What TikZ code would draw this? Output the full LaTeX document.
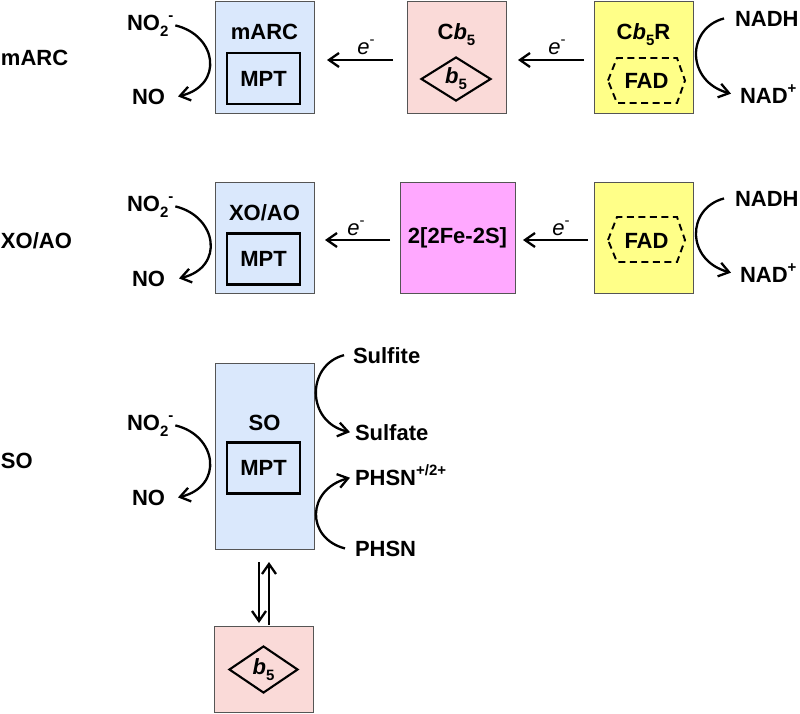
\documentclass[tikz,border=0pt]{standalone}
\usepackage{fontspec}
\setmainfont{Liberation Sans}
\usetikzlibrary{arrows.meta,shapes.geometric}
\definecolor{bluef}{HTML}{DAE8FC}
\definecolor{pinkf}{HTML}{FADAD8}
\definecolor{yellowf}{HTML}{FFFF88}
\definecolor{magf}{HTML}{FFA8FF}
\definecolor{boxline}{HTML}{555555}
\newcommand\mysub[1]{\raisebox{-0.28em}{\fontsize{15}{15}\selectfont #1}}
\newcommand\mysup[1]{\raisebox{0.45em}{\fontsize{15}{15}\selectfont #1}}
\newcommand\elec{{\mdseries\itshape e}\mysup{\mdseries -}}
\begin{document}
\begin{tikzpicture}[x=1pt,y=-1pt,
  txt/.style={font=\fontsize{22}{26}\selectfont\bfseries, inner sep=0pt, outer sep=0pt},
  bx/.style={draw=boxline, line width=0.9pt, inner sep=0pt, outer sep=0pt, minimum width=99pt},
  mpt/.style={draw=black, line width=2.4pt, inner sep=0pt, minimum width=73pt, minimum height=51pt, font=\fontsize{22}{26}\selectfont\bfseries},
  dia/.style={draw=black, line width=2.1pt, shape=diamond, inner sep=0pt, minimum width=70pt, minimum height=44pt, font=\fontsize{22}{26}\selectfont\bfseries},
  arr/.style={-{Straight Barb[length=10pt,width=14pt]}, line width=2.3pt},
  hexd/.style={dashed, dash pattern=on 7pt off 4.5pt, line width=1.9pt}
]
\useasboundingbox (0,0) rectangle (800,713);

% ---------------- Row 1: mARC ----------------
\node[txt, anchor=base west] (lab1) at (1,65) {mARC};
\node[bx, fill=bluef, minimum height=112pt] (marc) at (264.5,57) {};
\node[txt, anchor=base] (marct) at (264.5,39) {mARC};
\node[mpt] (mpt1) at (263.5,78.5) {MPT};

\node[bx, fill=pinkf, minimum height=112pt] (cb5) at (456.5,57) {};
\node[txt, anchor=base] (cb5t) at (456.5,39) {C\textit{b}\mysub{5}};
\node[dia] (d1) at (456,79) {\textit{b}\mysub{5}};

\node[bx, fill=yellowf, minimum height=112pt] (cb5r) at (643.5,57) {};
\node[txt, anchor=base] (cb5rt) at (643.5,39) {C\textit{b}\mysub{5}R};
\node[txt, anchor=base] (fad1) at (646.5,88) {FAD};
\draw[hexd] (608,80.5) -- (617,58) -- (677,58) -- (685,80.5) -- (677,103) -- (617,103) -- cycle;

\node[txt, anchor=base west] (no2a) at (127,30) {NO\mysub{2}\mysup{-}};
\node[txt, anchor=base west] (noa) at (132,104) {NO};
\draw[arr] ([xshift=2pt]no2a.east) .. controls +(42,10) and +(46,-11) .. ([xshift=13pt]noa.east);

\node[txt, anchor=base west] (nadha) at (735,26) {NADH};
\node[txt, anchor=base west] (nada) at (740,103) {NAD\mysup{+}};
\draw[arr] ([xshift=-11pt]nadha.west) .. controls +(-38,10) and +(-45,-12) .. ([xshift=-9pt]nada.west);

\draw[arr] ([xshift=-10pt,yshift=-3pt]cb5r.west) -- ([xshift=12pt,yshift=-3pt]cb5.east);
\draw[arr] ([xshift=-14pt,yshift=-3pt]cb5.west) -- ([xshift=13pt,yshift=-3pt]marc.east);
\node[txt, anchor=base] (e1) at (366,54) {\elec};
\node[txt, anchor=base] (e2) at (557,54) {\elec};

% ---------------- Row 2: XO/AO ----------------
\node[txt, anchor=base west] (lab2) at (1,248) {XO/AO};
\node[bx, fill=bluef, minimum height=111pt] (xo) at (264.5,237.5) {};
\node[txt, anchor=base] (xot) at (264.5,220) {XO/AO};
\node[mpt] (mpt2) at (263.5,259) {MPT};

\node[bx, fill=magf, minimum width=115pt, minimum height=111pt] (fes) at (457.5,237.5) {};
\node[txt] (fest) at (457.5,238) {2[2Fe-2S]};

\node[bx, fill=yellowf, minimum height=111pt] (fadbox) at (643.5,237.5) {};
\node[txt, anchor=base] (fad2) at (646.5,248) {FAD};
\draw[hexd] (608,240) -- (617,217) -- (677,217) -- (685,240) -- (677,262) -- (617,262) -- cycle;

\node[txt, anchor=base west] (no2b) at (127,211) {NO\mysub{2}\mysup{-}};
\node[txt, anchor=base west] (nob) at (132,286) {NO};
\draw[arr] ([xshift=2pt]no2b.east) .. controls +(42,10) and +(46,-11) .. ([xshift=14pt]nob.east);

\node[txt, anchor=base west] (nadhb) at (735,206) {NADH};
\node[txt, anchor=base west] (nadb) at (740,282) {NAD\mysup{+}};
\draw[arr] ([xshift=-11pt]nadhb.west) .. controls +(-38,10) and +(-45,-12) .. ([xshift=-9pt]nadb.west);

\draw[arr] ([xshift=-6pt,yshift=-2.5pt]fadbox.west) -- ([xshift=8pt,yshift=-2.5pt]fes.east);
\draw[arr] ([xshift=-10pt,yshift=-2.5pt]fes.west) -- ([xshift=11pt,yshift=-2.5pt]xo.east);
\node[txt, anchor=base] (e3) at (356,235) {\elec};
\node[txt, anchor=base] (e4) at (561,235) {\elec};

% ---------------- Row 3: SO ----------------
\node[txt, anchor=base west] (lab3) at (1,468) {SO};
\node[bx, fill=bluef, minimum height=186pt] (so) at (264.5,456) {};
\node[txt, anchor=base] (sot) at (264.5,430) {SO};
\node[mpt] (mpt3) at (263.5,468) {MPT};

\node[txt, anchor=base west] (no2c) at (127,430) {NO\mysub{2}\mysup{-}};
\node[txt, anchor=base west] (noc) at (132,505) {NO};
\draw[arr] ([xshift=2pt]no2c.east) .. controls +(42,10) and +(46,-11) .. ([xshift=13pt]noc.east);

\node[txt, anchor=base west] (sulfite) at (353,363) {Sulfite};
\node[txt, anchor=base west] (sulfate) at (355,440) {Sulfate};
\node[txt, anchor=base west] (phsnp) at (355,485) {PHSN\mysup{+/2+}};
\node[txt, anchor=base west] (phsn) at (355,556) {PHSN};
\draw[arr] ([xshift=-9pt]sulfite.west) .. controls +(-38,10) and +(-44,-10) .. ([xshift=-5pt]sulfate.west);
\draw[arr] ([xshift=-10pt]phsn.west) .. controls +(-39,-10) and +(-44,12) .. ([xshift=-5pt,yshift=-3pt]phsnp.west);

\node[bx, fill=pinkf, minimum height=86pt] (b5box) at (263.5,669) {};
\node[dia, minimum height=47pt, minimum width=69pt] (d2) at (263.5,669.5) {\textit{b}\mysub{5}};

\draw[arr] ([xshift=-5.5pt,yshift=-13pt]so.south) -- ([xshift=-4.5pt,yshift=3pt]b5box.north);
\draw[arr] ([xshift=5.5pt,yshift=1pt]b5box.north) -- ([xshift=4.5pt,yshift=-13pt]so.south);
\end{tikzpicture}
\end{document}
